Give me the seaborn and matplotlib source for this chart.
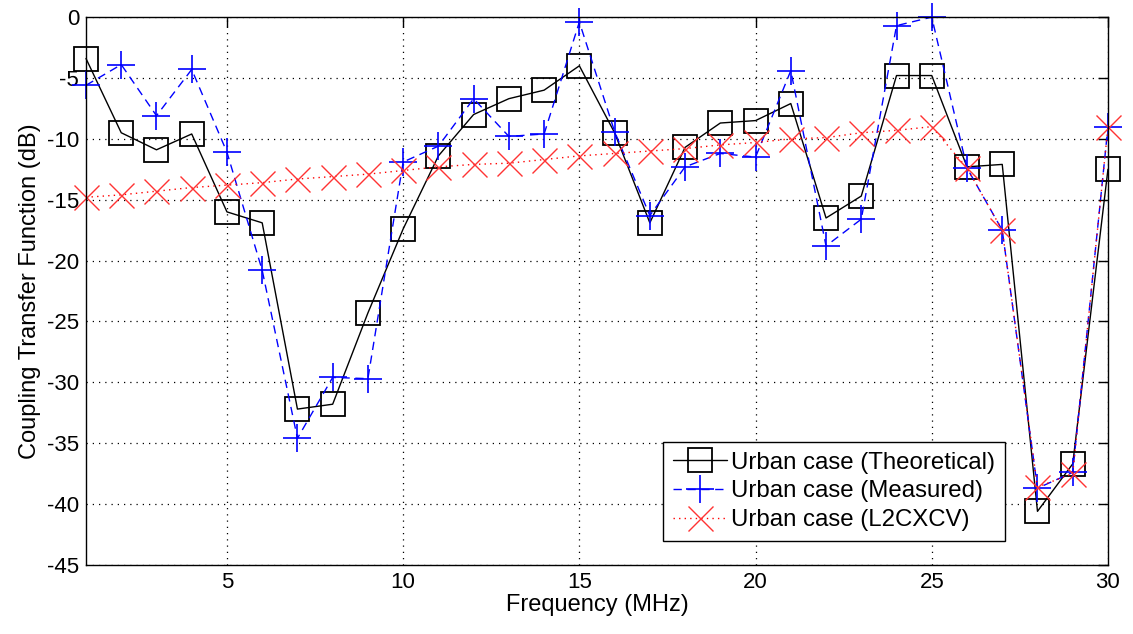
import matplotlib
matplotlib.use("Agg")
import matplotlib.pyplot as plt
import seaborn as sns

# Frequency points (MHz)
freq_mhz = list(range(1, 31))

# Coupling transfer function (dB)
theoretical_db = [-3.4, -9.5, -10.9, -9.6, -16.0, -16.9, -32.2, -31.8, -24.3, -17.4,
                  -11.4, -8.0, -6.7, -6.0, -4.0, -9.5, -16.9, -10.7, -8.7, -8.5,
                  -7.1, -16.5, -14.7, -4.8, -4.8, -12.3, -12.1, -40.6, -36.7, -12.5]
measured_db = [-5.6, -3.9, -8.1, -4.3, -11.1, -20.8, -34.6, -29.6, -29.7, -11.9,
               -10.6, -6.7, -9.8, -9.6, -0.4, -9.4, -16.3, -12.3, -11.2, -11.5,
               -4.4, -18.8, -16.6, -0.7, 0.0, -12.4, -17.5, -38.7, -37.4, -9.0]
l2cxcv_db = [-14.8, -14.6, -14.3, -14.0, -13.8, -13.6, -13.3, -13.1, -12.9, -12.6,
             -12.3, -12.1, -12.0, -11.7, -11.4, -11.2, -11.0, -10.8, -10.5, -10.3,
             -10.0, -9.9, -9.5, -9.3, -9.0, -12.4, -17.5, -38.6, -37.5, -9.0]

x_ticks = [5, 10, 15, 20, 25, 30]
y_ticks = list(range(-45, 1, 5))

sns.set_style("white")
plt.rcParams['font.family'] = ['Liberation Sans', 'DejaVu Sans']
plt.rcParams['axes.unicode_minus'] = False
plt.rcParams['text.color'] = 'black'
plt.rcParams['axes.labelcolor'] = 'black'

fig = plt.figure(figsize=(11.33, 6.34), dpi=100)
ax = fig.add_axes([0.0759, 0.109, 0.902, 0.864])

sns.lineplot(x=freq_mhz, y=theoretical_db, ax=ax, color='black', linewidth=1.0,
             linestyle='-', marker='s', markersize=17, markerfacecolor='none',
             markeredgecolor='black', markeredgewidth=1.3, clip_on=False,
             label='Urban case (Theoretical)')
sns.lineplot(x=freq_mhz, y=measured_db, ax=ax, color='#0000ff', linewidth=1.0,
             linestyle=(0, (6, 4)), marker='+', markersize=20,
             markeredgecolor='#0000ff', markeredgewidth=1.2, clip_on=False,
             label='Urban case (Measured)')
sns.lineplot(x=freq_mhz, y=l2cxcv_db, ax=ax, color='#ff0000', linewidth=1.0,
             linestyle=(0, (1, 3)), marker='x', markersize=18,
             markeredgecolor='#ff3333', markeredgewidth=1.0, clip_on=False,
             label='Urban case (L2CXCV)')

ax.set_xlim(1, 30)
ax.set_ylim(-45, 0)
ax.set_xticks(x_ticks)
ax.set_yticks(y_ticks)
ax.tick_params(direction='in', top=True, right=True, length=7, width=1,
               labelsize=16, colors='black', pad=5)
ax.grid(True, color='black', linestyle=(0, (1, 4)), linewidth=0.9)
for s in ax.spines.values():
    s.set_color('black')
    s.set_linewidth(1.0)

ax.set_xlabel('Frequency (MHz)', fontsize=17, labelpad=1)
ax.set_ylabel('Coupling Transfer Function (dB)', fontsize=17, labelpad=4)

leg = ax.legend(loc='upper left', bbox_to_anchor=(0.5646, 0.2245), fontsize=17.3,
                handlelength=2.25, labelspacing=0.28, borderpad=0.4,
                handletextpad=0.2, borderaxespad=0, fancybox=False, framealpha=1)
leg.get_frame().set_edgecolor('black')
leg.get_frame().set_linewidth(1.0)

fig.savefig('out.png', dpi=100)
